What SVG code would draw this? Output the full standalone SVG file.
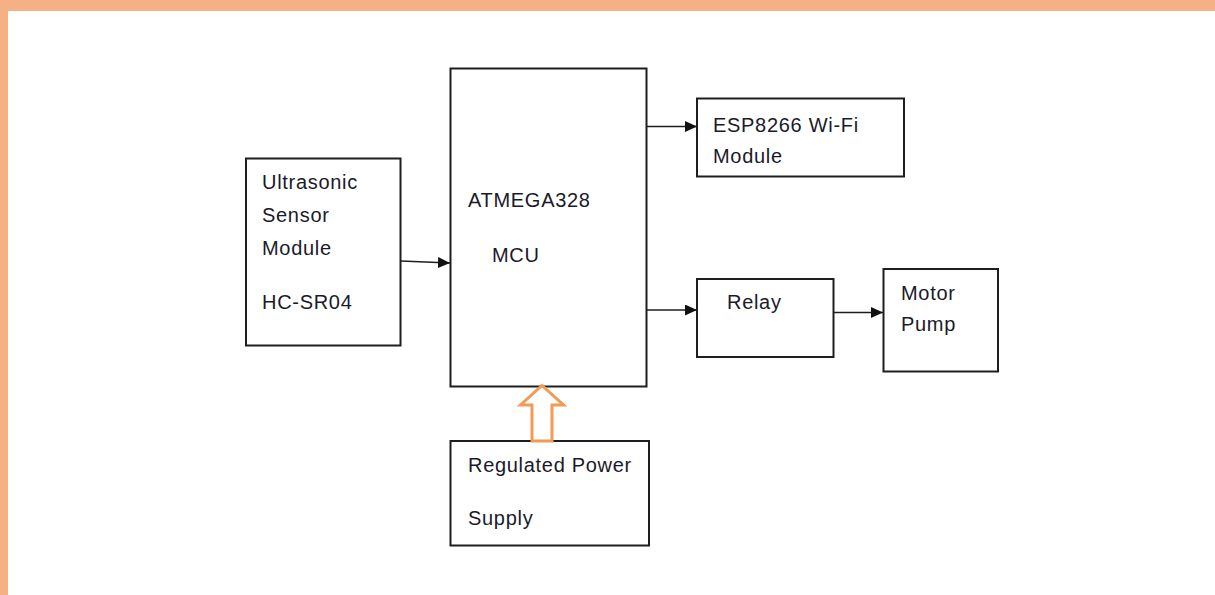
<svg xmlns="http://www.w3.org/2000/svg" width="1215" height="595" viewBox="0 0 1215 595">
<style>
.box{fill:#fff;stroke:#1e1e1e;stroke-width:2}
.lbl{font-family:"Liberation Sans",Arial,sans-serif;font-size:20px;fill:#1a1a2a;letter-spacing:0.7px}
.con{stroke:#1e1e1e;stroke-width:1.7;fill:none;marker-end:url(#ah)}
</style>
<defs>
<marker id="ah" markerWidth="13" markerHeight="11" refX="12" refY="5.5" orient="auto" markerUnits="userSpaceOnUse">
<path d="M0,0 L12,5.5 L0,11 Z" fill="#111"/>
</marker>
</defs>
<rect x="0" y="0" width="1215" height="595" fill="#fff"/>
<rect x="0" y="0" width="1215" height="11" fill="#F5B183"/>
<rect x="0" y="0" width="8" height="595" fill="#F5B183"/>

<g id="ultrasonic">
<rect class="box" x="246" y="158.5" width="154.5" height="187"/>
<text class="lbl" x="262" y="189">Ultrasonic</text>
<text class="lbl" x="262" y="222">Sensor</text>
<text class="lbl" x="262" y="255">Module</text>
<text class="lbl" x="262" y="309">HC-SR04</text>
</g>
<g id="mcu">
<rect class="box" x="450.5" y="68.5" width="196" height="318"/>
<text class="lbl" x="468" y="207">ATMEGA328</text>
<text class="lbl" x="492" y="262">MCU</text>
</g>
<g id="esp">
<rect class="box" x="697" y="98.5" width="207" height="78"/>
<text class="lbl" x="713" y="132">ESP8266 Wi-Fi</text>
<text class="lbl" x="713" y="163">Module</text>
</g>
<g id="relay">
<rect class="box" x="697" y="279" width="136.5" height="78"/>
<text class="lbl" x="727" y="309">Relay</text>
</g>
<g id="motor">
<rect class="box" x="883.5" y="269" width="114.5" height="102.5"/>
<text class="lbl" x="901" y="300">Motor</text>
<text class="lbl" x="901" y="331">Pump</text>
</g>
<g id="power">
<rect class="box" x="450.5" y="441" width="198.5" height="104.5"/>
<text class="lbl" x="468" y="472">Regulated Power</text>
<text class="lbl" x="468" y="525">Supply</text>
</g>
<g id="connectors">
<line class="con" x1="401" y1="261" x2="450" y2="263"/>
<line class="con" x1="647" y1="126.5" x2="697" y2="126.5"/>
<line class="con" x1="647" y1="310" x2="697" y2="310"/>
<line class="con" x1="834" y1="312.5" x2="883" y2="312.5"/>
<path d="M532,441 L532,405 L520.5,405 L542,385.5 L563.5,405 L552,405 L552,441 Z" fill="#fff" stroke="#F39A55" stroke-width="3" stroke-linejoin="miter"/>
</g>
</svg>
